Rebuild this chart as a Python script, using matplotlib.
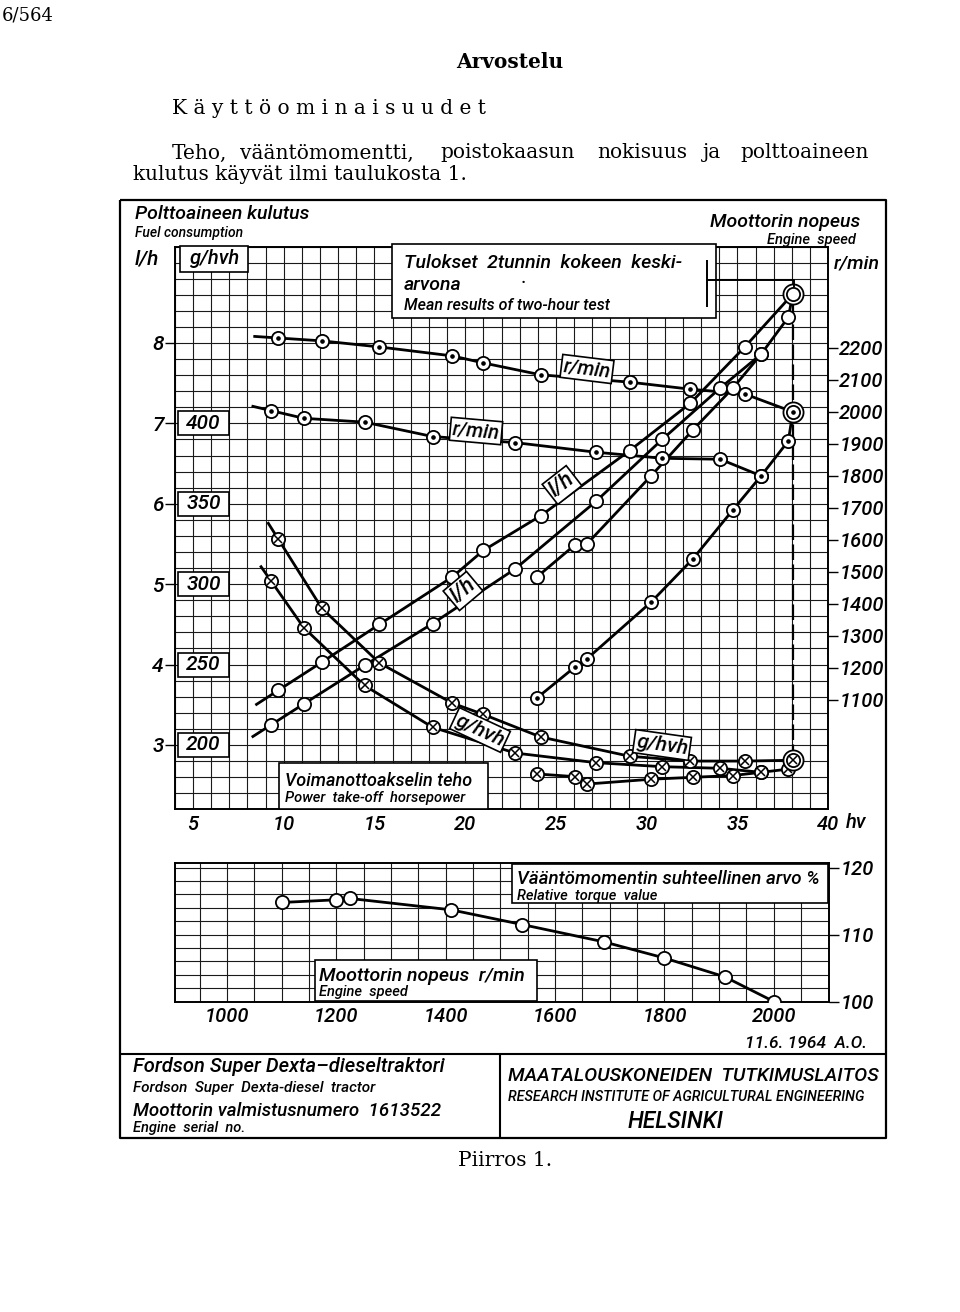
import numpy as np
import matplotlib
matplotlib.use("Agg")
import matplotlib.pyplot as plt
from matplotlib.patches import Rectangle

# ---------------- data ----------------
# part load, high governor setting
hp_hi  = [9.7, 12.1, 15.27, 19.29, 21.0, 24.15, 29.05, 32.4, 35.4, 38.05]
lh_hi  = [3.68, 4.03, 4.50, 5.09, 5.42, 5.85, 6.66, 7.25, 7.95, 8.61]
g_hi   = [328, 285, 251, 226, 219, 205, 193, 190, 190, 190.5]
rpm_hi = [2231, 2222, 2203, 2175, 2153, 2116, 2093, 2071, 2056, 2000]

# part load, lower governor setting
hp_lo  = [9.3, 11.1, 14.45, 18.2, 22.75, 27.2, 30.85, 34.05, 36.3]
lh_lo  = [3.25, 3.51, 3.99, 4.51, 5.19, 6.03, 6.80, 7.44, 7.86]
g_lo   = [302, 273, 237, 211, 195, 189, 186.5, 185.5, 183]
rpm_lo = [2004, 1980, 1968, 1923, 1904, 1874, 1855, 1852, 1800]

# full load
hp_fl  = [23.95, 26.05, 26.7, 30.25, 32.55, 34.75, 36.3, 37.8, 38.05]
lh_fl  = [5.09, 5.49, 5.50, 6.35, 6.92, 7.44, 7.86, 8.32, 8.61]
g_fl   = [182, 180.3, 175.7, 178.7, 179.9, 181, 183, 185, 190.5]
rpm_fl = [1106, 1203, 1228, 1406, 1541, 1694, 1800, 1909, 2000]

# relative torque
rpm_tq = [1100, 1200, 1225, 1410, 1540, 1690, 1800, 1910, 2000]
tq_pct = [114.8, 115.2, 115.4, 113.7, 111.5, 108.9, 106.5, 103.7, 100.0]

hp_ticks = [5, 10, 15, 20, 25, 30, 35, 40]
lh_ticks = [3, 4, 5, 6, 7, 8]
g_ticks = [200, 250, 300, 350, 400]
rpm_ticks = [1100, 1200, 1300, 1400, 1500, 1600, 1700, 1800, 1900, 2000, 2100, 2200]
tq_rpm_ticks = [1000, 1200, 1400, 1600, 1800, 2000]
tq_ticks = [100, 110, 120]

# ---------------- scales ----------------
LH_LIM = (2.2, 9.2)
HP_LIM = (4, 40)
def lh_to_g(v):
    return 50.0 * v + 50.0
def lh_to_rpm(v):
    return 251.3 * v + 205.0

TECH = ['Roboto', 'DejaVu Sans']
SERIF = ['DejaVu Serif']
plt.rcParams['font.family'] = TECH
plt.rcParams['font.style'] = 'italic'
plt.rcParams['font.weight'] = 'medium'

W, H = 960, 1312
fig = plt.figure(figsize=(W / 100, H / 100), dpi=100)
fig.patch.set_facecolor('white')

def rect(x0, y0, x1, y1):
    return [x0 / W, 1 - y1 / H, (x1 - x0) / W, (y1 - y0) / H]

GRID = dict(color='#1a1a1a', lw=0.8)

# ---------------- main chart ----------------
ax = fig.add_axes(rect(174.85, 246.5, 828.25, 809.3))
ax.set_xlim(*HP_LIM)
ax.set_ylim(*LH_LIM)
ax.set_xticks(hp_ticks)
ax.set_xticks(np.arange(4, 41, 1), minor=True)
ax.set_yticks(lh_ticks)
ax.set_yticks(np.arange(22, 93, 2) / 10.0, minor=True)
ax.grid(which='both', **GRID)
ax.tick_params(axis='x', which='both', length=0, pad=4, labelsize=14.5)
ax.tick_params(axis='y', which='minor', length=0)
ax.tick_params(axis='y', which='major', length=7, width=1, direction='out', pad=1, labelsize=15)
for s in ax.spines.values():
    s.set_linewidth(1.4)

def ext(x, y, dx):
    slope = (y[1] - y[0]) / (x[1] - x[0])
    return [x[0] - dx] + list(x), [y[0] - slope * dx] + list(y)

# line layers
axg = ax.twinx(); axg.set_ylim(lh_to_g(LH_LIM[0]), lh_to_g(LH_LIM[1])); axg.set_axis_off()
axr = ax.twinx(); axr.set_ylim(lh_to_rpm(LH_LIM[0]), lh_to_rpm(LH_LIM[1]))
for s in axr.spines.values():
    s.set_visible(False)
axr.set_yticks(rpm_ticks)
axr.tick_params(axis='y', length=7, width=1, direction='out', pad=1, labelsize=14.5)

LW = 2.0
ax.plot(*ext(hp_hi, lh_hi, 1.2), color='k', lw=LW, zorder=2)
ax.plot(*ext(hp_lo, lh_lo, 1.0), color='k', lw=LW, zorder=2)
ax.plot(hp_fl, lh_fl, color='k', lw=LW, zorder=2)
axg.plot(*ext(hp_hi, g_hi, 0.55), color='k', lw=LW)
axg.plot(*ext(hp_lo, g_lo, 0.55), color='k', lw=LW)
axg.plot(hp_fl, g_fl, color='k', lw=LW)
axg.plot([hp_hi[-1], hp_hi[-1]], [g_hi[-1], lh_to_g(lh_hi[-1])], color='k', lw=1.6,
         dashes=(7, 2))
axr.plot(*ext(hp_hi, rpm_hi, 1.3), color='k', lw=LW)
axr.plot(*ext(hp_lo, rpm_lo, 1.0), color='k', lw=LW)
axr.plot(hp_fl, rpm_fl, color='k', lw=LW)

# marker layers
axm = ax.twinx(); axm.set_ylim(*LH_LIM); axm.set_axis_off()
axgm = ax.twinx(); axgm.set_ylim(lh_to_g(LH_LIM[0]), lh_to_g(LH_LIM[1])); axgm.set_axis_off()
axrm = ax.twinx(); axrm.set_ylim(lh_to_rpm(LH_LIM[0]), lh_to_rpm(LH_LIM[1])); axrm.set_axis_off()

MS = 9.5
def circles(a, x, y, kind, big=False):
    if big:
        a.plot(x, y, 'o', ms=MS + 5, mfc='white', mec='k', mew=1.3, ls='none')
    a.plot(x, y, 'o', ms=MS, mfc='white', mec='k', mew=1.3, ls='none')
    if kind == 'dot':
        a.plot(x, y, 'o', ms=2.3, color='k', ls='none')
    elif kind == 'cross':
        a.plot(x, y, 'x', ms=6.3, mew=1.1, color='k', ls='none')

circles(axm, hp_lo, lh_lo, 'open')
circles(axm, hp_fl, lh_fl, 'open')
circles(axm, hp_hi[:-1], lh_hi[:-1], 'open')
circles(axm, hp_hi[-1:], lh_hi[-1:], 'open', big=True)
circles(axgm, hp_lo, g_lo, 'cross')
circles(axgm, hp_fl, g_fl, 'cross')
circles(axgm, hp_hi[:-1], g_hi[:-1], 'cross')
circles(axgm, hp_hi[-1:], g_hi[-1:], 'cross', big=True)
circles(axrm, hp_lo, rpm_lo, 'dot')
circles(axrm, hp_fl, rpm_fl, 'dot')
circles(axrm, hp_hi[:-1], rpm_hi[:-1], 'dot')
circles(axrm, hp_hi[-1:], rpm_hi[-1:], 'dot', big=True)

# ---------------- torque chart ----------------
ax2 = fig.add_axes(rect(175, 863, 828.5, 1001.5))
ax2.set_xlim(905, 2100)
ax2.set_ylim(100, 120.7)
ax2.set_xticks(tq_rpm_ticks)
ax2.set_xticks(np.arange(950, 2100, 50), minor=True)
ax2.set_yticks(tq_ticks)
ax2.set_yticks(np.arange(100, 121, 2), minor=True)
ax2.grid(which='both', **GRID)
ax2.yaxis.tick_right()
ax2.tick_params(axis='x', which='both', length=0, pad=4, labelsize=14.5)
ax2.tick_params(axis='y', which='minor', length=0)
ax2.tick_params(axis='y', which='major', length=7, width=1, direction='out', pad=2, labelsize=14.5)
for s in ax2.spines.values():
    s.set_linewidth(1.4)
ax2.plot(rpm_tq, tq_pct, color='k', lw=LW, zorder=3)
ax2.plot(rpm_tq, tq_pct, 'o', ms=MS, mfc='white', mec='k', mew=1.3, zorder=4)

# ---------------- overlay (pixel coordinates) ----------------
ovl = fig.add_axes([0, 0, 1, 1], zorder=20)
ovl.set_xlim(0, W); ovl.set_ylim(H, 0); ovl.axis('off')
ovl.patch.set_alpha(0)

def T(x, y, s, size=14, ha='left', va='center', **kw):
    return ovl.text(x, y, s, fontsize=size, ha=ha, va=va, family=TECH, style='italic',
                    weight='medium', **kw)

def S(x, y, s, size=14.5, ha='left', va='center', **kw):
    kw.setdefault('weight', 'normal')
    return ovl.text(x, y, s, fontsize=size, ha=ha, va=va, family=SERIF, style='normal', **kw)

def box(x0, y0, x1, y1, lw=1.2):
    ovl.add_patch(Rectangle((x0, y0), x1 - x0, y1 - y0, fc='white', ec='k', lw=lw))

def line(xs, ys, lw=1.4, **kw):
    ovl.plot(xs, ys, color='k', lw=lw, solid_capstyle='butt', **kw)

def tag(x, y, s, rot, size=14.5):
    T(x, y, s, size=size, ha='center', va='center', rotation=rot, rotation_mode='anchor',
      bbox=dict(boxstyle='square,pad=0.1', fc='white', ec='k', lw=1.2))

# header text
S(2, 15, '6/564', size=13)
S(510, 62, 'Arvostelu', size=14.5, ha='center', weight='bold')
S(172, 108, 'K ä y t t ö o m i n a i s u u d e t', size=14.5)
for wx, w in [(172, 'Teho,'), (240, 'vääntömomentti,'), (440, 'poistokaasun'),
              (597, 'nokisuus'), (703, 'ja'), (740, 'polttoaineen')]:
    S(wx, 153, w, size=14.5)
S(133, 175, 'kulutus käyvät ilmi taulukosta 1.', size=14.5)
S(505, 1160, 'Piirros 1.', size=14.5, ha='center')

# outer frame and title block
line([120, 886, 886, 120, 120], [200, 200, 1138, 1138, 200], lw=1.6)
line([120, 886], [1054, 1054], lw=1.5)
line([500, 500], [1054, 1138], lw=1.5)

# axis titles
T(135, 214, 'Polttoaineen kulutus', size=14)
T(135, 233, 'Fuel consumption', size=10)
T(135, 259, 'l/h', size=15)
box(180, 246, 248, 272)
T(214, 259, 'g/hvh', size=14.5, ha='center')
T(860, 222, 'Moottorin nopeus', size=14, ha='right')
T(856, 240, 'Engine  speed', size=10.5, ha='right')
T(834, 263, 'r/min', size=14)

# g/hvh boxed scale on the left
for gv in g_ticks:
    ypx = ovl.transData.inverted().transform(axg.transData.transform((HP_LIM[0], gv)))[1]
    box(178, ypx - 12, 229, ypx + 12)
    T(203.5, ypx, str(gv), size=15, ha='center')

# result inset
box(392, 244, 716, 318)
T(404, 263, 'Tulokset  2tunnin  kokeen  keski-', size=14)
T(404, 285, 'arvona', size=14)
T(521, 283, '·', size=13)
T(404, 306, 'Mean results of two-hour test', size=11.5)
line([707, 707], [260, 307], lw=1.4)
line([707, 794, 794], [280, 280, 287], lw=1.4)

# curve labels
tag(587, 369, 'r/min', -7)
tag(476, 431, 'r/min', -5)
tag(562, 485, 'l/h', 38, size=16)
tag(463, 591, 'l/h', 40, size=16)
tag(480, 730, 'g/hvh', -25, size=15)
tag(662, 745, 'g/hvh', -8, size=15)

box(279, 763, 488, 809)
T(285, 781, 'Voimanottoakselin teho', size=13)
T(285, 798, 'Power  take-off  horsepower', size=10.5)
T(846, 823, 'hv', size=14.5)

# torque chart labels
box(512, 864, 828, 903)
T(517, 879, 'Vääntömomentin suhteellinen arvo %', size=13.5)
T(517, 896, 'Relative  torque  value', size=10.5)
box(315, 960, 537, 1001)
T(319, 976, 'Moottorin nopeus  r/min', size=14)
T(319, 992, 'Engine  speed', size=10.5)

# title block text
T(745, 1043, '11.6. 1964  A.O.', size=12.5)
T(133, 1066, 'Fordson Super Dexta–dieseltraktori', size=14.5)
T(133, 1088, 'Fordson  Super  Dexta-diesel  tractor', size=11)
T(133, 1111, 'Moottorin valmistusnumero  1613522', size=13.5)
T(133, 1128, 'Engine  serial  no.', size=10.5)
T(508, 1076, 'MAATALOUSKONEIDEN  TUTKIMUSLAITOS', size=14)
T(508, 1097, 'RESEARCH INSTITUTE OF AGRICULTURAL ENGINEERING', size=10.3)
T(676, 1121, 'HELSINKI', size=16.5, ha='center')

fig.savefig('out.png', dpi=100, facecolor='white')
